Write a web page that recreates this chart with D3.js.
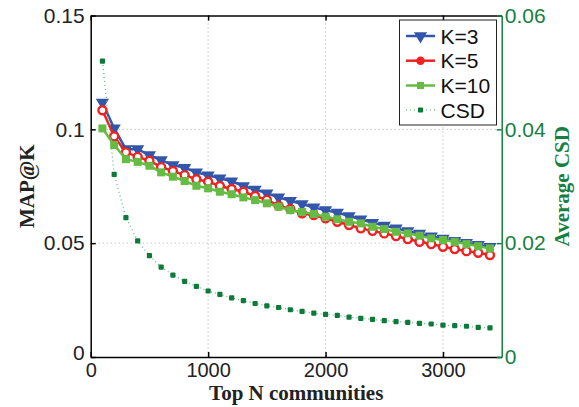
<!DOCTYPE html>
<html><head><meta charset="utf-8">
<script src="https://cdn.jsdelivr.net/npm/d3@7/dist/d3.min.js"></script>
<style>body{margin:0;background:#fff}svg{display:block}</style>
</head><body><svg id="c" width="579" height="407"></svg>
<script>
const topN = [100,200,300,400,500,600,700,800,900,1000,1100,1200,1300,1400,1500,1600,1700,1800,1900,2000,2100,2200,2300,2400,2500,2600,2700,2800,2900,3000,3100,3200,3300,3400];
const mapK3 = [0.1118,0.1004,0.0913,0.0913,0.0887,0.0865,0.0843,0.0831,0.0811,0.0798,0.0785,0.0772,0.0751,0.0736,0.0719,0.0701,0.0686,0.0672,0.0657,0.0645,0.0634,0.0619,0.0605,0.0590,0.0577,0.0565,0.0553,0.0542,0.0530,0.0520,0.0510,0.0502,0.0493,0.0484];
const mapK5 = [0.1084,0.0969,0.0899,0.0879,0.0862,0.0834,0.0817,0.0799,0.0781,0.0770,0.0751,0.0738,0.0726,0.0707,0.0690,0.0665,0.0650,0.0631,0.0623,0.0609,0.0594,0.0580,0.0565,0.0554,0.0543,0.0531,0.0518,0.0506,0.0496,0.0484,0.0474,0.0465,0.0458,0.0448];
const mapK10 = [0.1004,0.0931,0.0869,0.0857,0.0840,0.0811,0.0792,0.0773,0.0752,0.0741,0.0726,0.0715,0.0701,0.0689,0.0675,0.0660,0.0645,0.0637,0.0628,0.0616,0.0605,0.0594,0.0587,0.0572,0.0562,0.0550,0.0543,0.0533,0.0521,0.0514,0.0506,0.0496,0.0487,0.0477];
const avgCSD = [0.0520,0.0321,0.0245,0.0204,0.0178,0.0158,0.0144,0.0133,0.0124,0.0116,0.0110,0.0104,0.0099,0.0094,0.0090,0.0087,0.0083,0.0080,0.0077,0.0075,0.0073,0.0070,0.0068,0.0066,0.0064,0.0062,0.0061,0.0059,0.0058,0.0056,0.0055,0.0054,0.0052,0.0051];
const xTicks = [0,1000,2000,3000];
const yLeftTicks = [0,0.05,0.1,0.15];
const yRightTicks = [0,0.02,0.04,0.06];
const legendLabels = ["K=3","K=5","K=10","CSD"];

const W = 579, H = 407;
const m = {l: 90.7, r: 77.3, t: 15.5, b: 50};
const svg = d3.select("#c");
const x = d3.scaleLinear().domain([0,3500]).range([m.l, W - m.r]);
const yL = d3.scaleLinear().domain([0,0.15]).range([H - m.b, m.t]);
const yR = d3.scaleLinear().domain([0,0.06]).range([H - m.b, m.t]);

const cBlue = "#3355aa", cRed = "#ee2222", cGreen = "#66bb44", cDark = "#0b7a3b", cAxisG = "#15803f";
const sans = "'Liberation Sans', Arial, sans-serif";
const serif = "'Liberation Serif', 'Times New Roman', serif";

// grid
const grid = svg.append("g").attr("stroke", "#aaa").attr("stroke-width", 1).attr("stroke-dasharray", "1,3");
xTicks.slice(1).forEach(t => grid.append("line").attr("x1", x(t)).attr("x2", x(t)).attr("y1", m.t).attr("y2", H - m.b));
yLeftTicks.slice(1, 3).forEach(t => grid.append("line").attr("x1", m.l).attr("x2", W - m.r).attr("y1", yL(t)).attr("y2", yL(t)));

// axes
const fmtL = d => d === 0 ? "0" : String(d);
const axL = svg.append("g").attr("transform", `translate(${m.l},0)`)
  .call(d3.axisLeft(yL).tickValues(yLeftTicks).tickFormat(fmtL).tickSizeInner(-5).tickSizeOuter(0).tickPadding(6));
const axB = svg.append("g").attr("transform", `translate(0,${H - m.b})`)
  .call(d3.axisBottom(x).tickValues(xTicks).tickFormat(d3.format("d")).tickSizeInner(-5).tickSizeOuter(0).tickPadding(6));
const axT = svg.append("g").attr("transform", `translate(0,${m.t})`)
  .call(d3.axisTop(x).tickValues(xTicks).tickFormat("").tickSizeInner(-5).tickSizeOuter(0));
const axR = svg.append("g").attr("transform", `translate(${W - m.r},0)`)
  .call(d3.axisRight(yR).tickValues(yRightTicks).tickFormat(d => d === 0 ? "0" : d.toFixed(2)).tickSizeInner(-5).tickSizeOuter(0).tickPadding(3));
[axL, axB, axT].forEach(a => { a.selectAll("path,line").attr("stroke", "#000").attr("stroke-width", 1.5); });
axR.selectAll("path,line").attr("stroke", cAxisG).attr("stroke-width", 1.5);
[axL, axR].forEach(a => a.selectAll("text").attr("font-family", sans).attr("font-size", 21));
axB.selectAll("text").attr("font-family", sans).attr("font-size", 20);
axL.selectAll("text").attr("fill", "#222");
axB.selectAll("text").attr("fill", "#222");
axR.selectAll("text").attr("fill", cAxisG);
axL.selectAll(".tick").filter(d => d === 0).select("text").attr("dy", "0.1em");

// titles
svg.append("text").attr("x", (m.l + W - m.r) / 2).attr("y", 400).attr("text-anchor", "middle")
  .attr("font-family", serif).attr("font-weight", "bold").attr("font-size", 21).attr("fill", "#222").text("Top N communities");
svg.append("text").attr("transform", `translate(34,${(m.t + H - m.b) / 2}) rotate(-90)`).attr("text-anchor", "middle")
  .attr("font-family", serif).attr("font-weight", "bold").attr("font-size", 21).attr("fill", "#222").text("MAP@K");
svg.append("text").attr("transform", `translate(569,${(m.t + H - m.b) / 2}) rotate(-90)`).attr("text-anchor", "middle")
  .attr("font-family", serif).attr("font-weight", "bold").attr("font-size", 21).attr("fill", cAxisG).text("Average CSD");

// series
const lineL = d3.line().x((d, i) => x(topN[i])).y(d => yL(d));
const lineR = d3.line().x((d, i) => x(topN[i])).y(d => yR(d));
const tri = d3.symbol().type(d3.symbolTriangle).size(75);

const gK3 = svg.append("g");
gK3.append("path").datum(mapK3).attr("d", lineL).attr("fill", "none").attr("stroke", cBlue).attr("stroke-width", 2.5);
gK3.selectAll("path.m").data(mapK3).join("path").attr("class", "m")
  .attr("d", tri).attr("transform", (d, i) => `translate(${x(topN[i])},${yL(d)}) rotate(180)`).attr("fill", cBlue);

const gK5 = svg.append("g");
gK5.append("path").datum(mapK5).attr("d", lineL).attr("fill", "none").attr("stroke", cRed).attr("stroke-width", 2.5);
gK5.selectAll("circle").data(mapK5).join("circle").attr("cx", (d, i) => x(topN[i])).attr("cy", d => yL(d))
  .attr("r", 4).attr("fill", "#fff").attr("stroke", cRed).attr("stroke-width", 2.4);

const gK10 = svg.append("g");
gK10.append("path").datum(mapK10).attr("d", lineL).attr("fill", "none").attr("stroke", cGreen).attr("stroke-width", 2.5);
gK10.selectAll("rect").data(mapK10).join("rect").attr("x", (d, i) => x(topN[i]) - 4).attr("y", d => yL(d) - 4)
  .attr("width", 8).attr("height", 8).attr("fill", cGreen);

const gC = svg.append("g");
gC.append("path").datum(avgCSD).attr("d", lineR).attr("fill", "none").attr("stroke", "#5cb37a").attr("stroke-width", 1.2).attr("stroke-dasharray", "1,3");
gC.selectAll("rect").data(avgCSD).join("rect").attr("x", (d, i) => x(topN[i]) - 2.6).attr("y", d => yR(d) - 2.6)
  .attr("width", 5.2).attr("height", 5.2).attr("rx", 1).attr("fill", cDark);

// legend
const lg = svg.append("g");
lg.append("rect").attr("x", 399.5).attr("y", 20).attr("width", 97).attr("height", 105).attr("fill", "#fff").attr("stroke", "#222").attr("stroke-width", 1);
const rows = [36, 60.7, 85.5, 110];
const lx1 = 406, lx2 = 435, lm = 420.5;
lg.append("line").attr("x1", lx1).attr("x2", lx2).attr("y1", rows[0]).attr("y2", rows[0]).attr("stroke", cBlue).attr("stroke-width", 2.5);
lg.append("path").attr("d", tri).attr("transform", `translate(${lm},${rows[0]}) rotate(180)`).attr("fill", cBlue);
lg.append("line").attr("x1", lx1).attr("x2", lx2).attr("y1", rows[1]).attr("y2", rows[1]).attr("stroke", cRed).attr("stroke-width", 2.5);
lg.append("circle").attr("cx", lm).attr("cy", rows[1]).attr("r", 3.5).attr("fill", cRed).attr("stroke", cRed).attr("stroke-width", 1.5);
lg.append("line").attr("x1", lx1).attr("x2", lx2).attr("y1", rows[2]).attr("y2", rows[2]).attr("stroke", cGreen).attr("stroke-width", 2.5);
lg.append("rect").attr("x", lm - 3.5).attr("y", rows[2] - 3.5).attr("width", 7).attr("height", 7).attr("fill", cGreen);
lg.append("line").attr("x1", lx1).attr("x2", lx2).attr("y1", rows[3]).attr("y2", rows[3]).attr("stroke", "#5cb37a").attr("stroke-width", 1.2).attr("stroke-dasharray", "1,3");
lg.append("rect").attr("x", lm - 2.6).attr("y", rows[3] - 2.6).attr("width", 5.2).attr("height", 5.2).attr("rx", 1).attr("fill", cDark);
legendLabels.forEach((t, i) => lg.append("text").attr("x", 440.5).attr("y", rows[i]).attr("dy", "0.36em")
  .attr("font-family", sans).attr("font-size", 21).attr("fill", "#111").text(t));
</script>
</body></html>
